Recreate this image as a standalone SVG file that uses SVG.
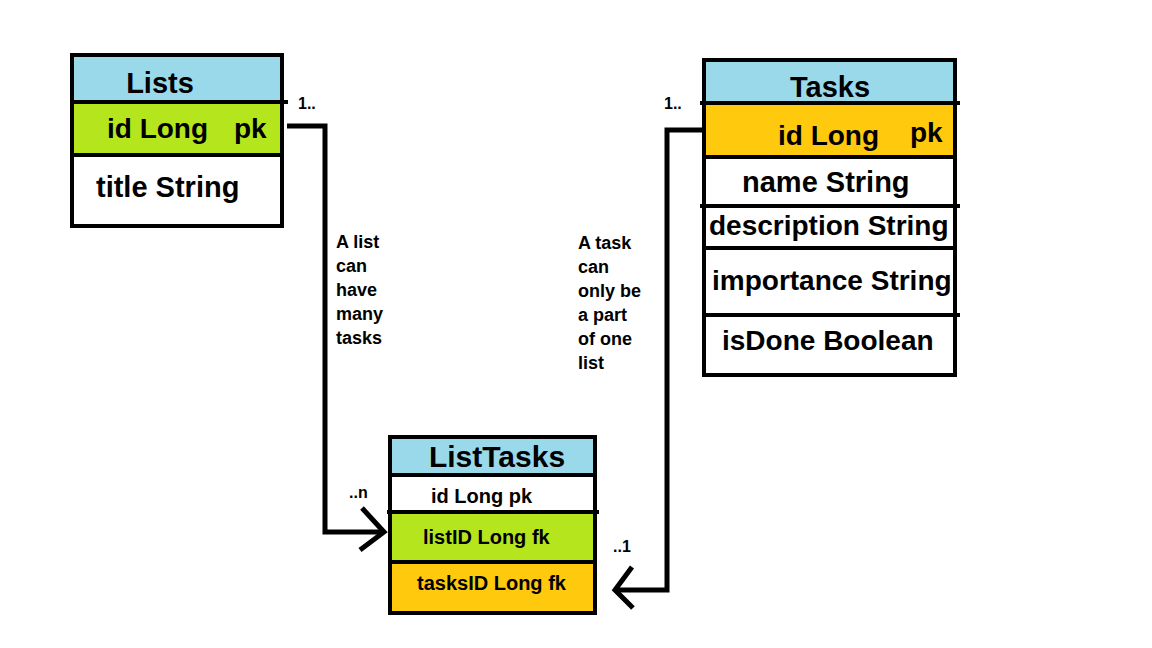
<svg xmlns="http://www.w3.org/2000/svg" width="1152" height="648" viewBox="0 0 1152 648">
<style>
text{font-family:"Liberation Sans",Arial,sans-serif;font-weight:bold;fill:#000}
.h{font-size:29px;text-anchor:middle}
.f{font-size:28px}
.s{font-size:20px}
.c{font-size:18px}
.m{font-size:16px}
.blue{fill:#99d9ea}
.green{fill:#b5e61d}
.orange{fill:#ffc90e}
.white{fill:#fff}
.ln{stroke:#000;stroke-width:4;fill:none}
.box{stroke:#000;stroke-width:4;fill:none}
.con{stroke:#000;stroke-width:5;fill:none;stroke-linejoin:miter}
</style>
<rect width="1152" height="648" fill="#fff"/>
<g id="lists">
<rect class="blue" x="72" y="55" width="210" height="47"/>
<rect class="green" x="72" y="102" width="210" height="53"/>
<rect class="white" x="72" y="155" width="210" height="71"/>
<line class="ln" x1="70" y1="102" x2="288" y2="102"/>
<line class="ln" x1="70" y1="155" x2="284" y2="155"/>
<rect class="box" x="72" y="55" width="210" height="171"/>
<text class="h" x="160" y="93">Lists</text>
<text class="f" x="107" y="138">id Long</text>
<text class="f" x="234" y="138">pk</text>
<text class="f" x="96" y="197" style="font-size:29px">title String</text>
</g>
<g id="tasks">
<rect class="blue" x="704" y="60" width="251" height="43"/>
<rect class="orange" x="704" y="103" width="251" height="54"/>
<rect class="white" x="704" y="157" width="251" height="218"/>
<line class="ln" x1="700" y1="103" x2="960" y2="103"/>
<line class="ln" x1="704" y1="157" x2="955" y2="157"/>
<line class="ln" x1="700" y1="206" x2="960" y2="206"/>
<line class="ln" x1="704" y1="248" x2="955" y2="248"/>
<line class="ln" x1="704" y1="315" x2="960" y2="315"/>
<rect class="box" x="704" y="60" width="251" height="315"/>
<text class="h" x="830" y="97">Tasks</text>
<text class="f" x="778" y="145">id Long</text>
<text class="f" x="910" y="142">pk</text>
<text class="f" x="742" y="192" style="font-size:29px">name String</text>
<text class="f" x="709" y="235">description String</text>
<text class="f" x="712" y="290">importance String</text>
<text class="f" x="722" y="350">isDone Boolean</text>
</g>
<g id="listtasks">
<rect class="blue" x="390" y="437" width="205" height="38"/>
<rect class="white" x="390" y="475" width="205" height="37"/>
<rect class="green" x="390" y="512" width="205" height="50"/>
<rect class="orange" x="390" y="562" width="205" height="51"/>
<line class="ln" x1="390" y1="475" x2="595" y2="475"/>
<line class="ln" x1="387" y1="512" x2="599" y2="512"/>
<line class="ln" x1="390" y1="562" x2="595" y2="562"/>
<rect class="box" x="390" y="437" width="205" height="176"/>
<text class="h" x="497" y="467" style="font-size:30px">ListTasks</text>
<text class="s" x="431" y="503">id Long pk</text>
<text class="s" x="423" y="544">listID Long fk</text>
<text class="s" x="417" y="590">tasksID Long fk</text>
</g>
<g id="connectors">
<polyline class="con" points="287,126 325,126 325,532 383,532"/>
<polyline class="con" points="362,508 384,532 360,550"/>
<polyline class="con" points="702,130 667,130 667,590 617,590"/>
<polyline class="con" points="632,567 615,590 633,608"/>
<text class="m" x="298" y="109">1..</text>
<text class="m" x="349" y="498">..n</text>
<text class="m" x="664" y="109">1..</text>
<text class="m" x="613" y="552">..1</text>
<text class="c" x="336" y="248">A list</text>
<text class="c" x="336" y="272">can</text>
<text class="c" x="336" y="296">have</text>
<text class="c" x="336" y="320">many</text>
<text class="c" x="336" y="344">tasks</text>
<text class="c" x="578" y="249">A task</text>
<text class="c" x="578" y="273">can</text>
<text class="c" x="578" y="297">only be</text>
<text class="c" x="578" y="321">a part</text>
<text class="c" x="578" y="345">of one</text>
<text class="c" x="578" y="369">list</text>
</g>
</svg>
